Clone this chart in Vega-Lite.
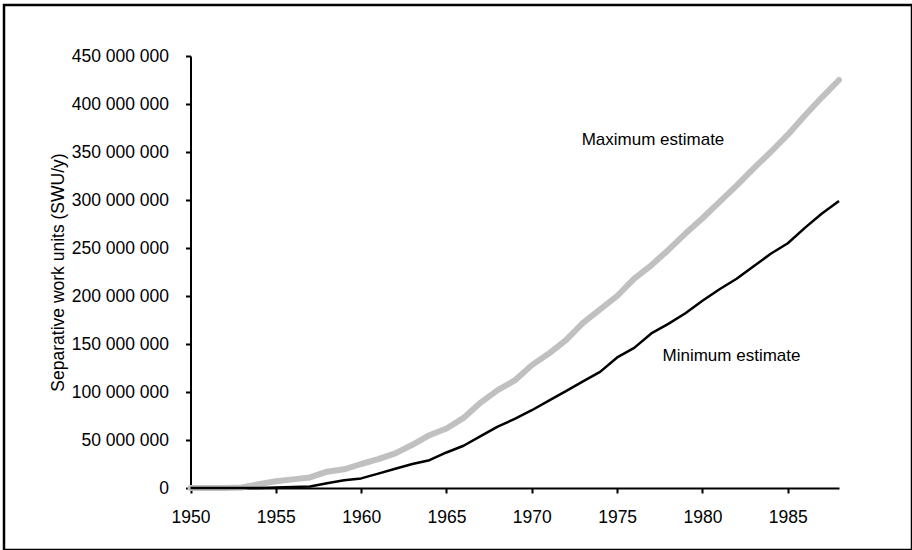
{
  "$schema": "https://vega.github.io/schema/vega-lite/v6.json",
  "width": 908,
  "height": 545,
  "autosize": {"type": "none"},
  "padding": {"left": 4, "top": 5, "right": 0, "bottom": 0},
  "background": "white",
  "config": {
    "view": {"stroke": "black", "strokeWidth": 2.5},
    "font": "Liberation Sans",
    "axis": {
      "grid": false,
      "domainColor": "black",
      "domainWidth": 2,
      "tickColor": "black",
      "tickWidth": 2,
      "tickSize": 5,
      "labelFont": "Liberation Sans",
      "labelFontSize": 17.5,
      "labelColor": "black",
      "labelFlush": false,
      "labelOverlap": false,
      "titleFont": "Liberation Sans",
      "titleFontSize": 17.5,
      "titleFontWeight": "normal",
      "titleColor": "black"
    }
  },
  "datasets": {
    "series": [
      {"year": 1950, "series": "Maximum", "swu": 0},
      {"year": 1951, "series": "Maximum", "swu": 0},
      {"year": 1952, "series": "Maximum", "swu": 0},
      {"year": 1953, "series": "Maximum", "swu": 500000},
      {"year": 1954, "series": "Maximum", "swu": 4000000},
      {"year": 1955, "series": "Maximum", "swu": 7000000},
      {"year": 1956, "series": "Maximum", "swu": 9000000},
      {"year": 1957, "series": "Maximum", "swu": 11000000},
      {"year": 1958, "series": "Maximum", "swu": 17000000},
      {"year": 1959, "series": "Maximum", "swu": 19500000},
      {"year": 1960, "series": "Maximum", "swu": 25000000},
      {"year": 1961, "series": "Maximum", "swu": 30000000},
      {"year": 1962, "series": "Maximum", "swu": 36000000},
      {"year": 1963, "series": "Maximum", "swu": 45000000},
      {"year": 1964, "series": "Maximum", "swu": 55000000},
      {"year": 1965, "series": "Maximum", "swu": 62000000},
      {"year": 1966, "series": "Maximum", "swu": 73000000},
      {"year": 1967, "series": "Maximum", "swu": 89000000},
      {"year": 1968, "series": "Maximum", "swu": 102000000},
      {"year": 1969, "series": "Maximum", "swu": 112000000},
      {"year": 1970, "series": "Maximum", "swu": 128000000},
      {"year": 1971, "series": "Maximum", "swu": 140000000},
      {"year": 1972, "series": "Maximum", "swu": 154000000},
      {"year": 1973, "series": "Maximum", "swu": 172000000},
      {"year": 1974, "series": "Maximum", "swu": 186000000},
      {"year": 1975, "series": "Maximum", "swu": 200000000},
      {"year": 1976, "series": "Maximum", "swu": 218000000},
      {"year": 1977, "series": "Maximum", "swu": 232000000},
      {"year": 1978, "series": "Maximum", "swu": 248000000},
      {"year": 1979, "series": "Maximum", "swu": 265000000},
      {"year": 1980, "series": "Maximum", "swu": 281000000},
      {"year": 1981, "series": "Maximum", "swu": 298000000},
      {"year": 1982, "series": "Maximum", "swu": 315000000},
      {"year": 1983, "series": "Maximum", "swu": 333000000},
      {"year": 1984, "series": "Maximum", "swu": 350000000},
      {"year": 1985, "series": "Maximum", "swu": 368000000},
      {"year": 1986, "series": "Maximum", "swu": 388000000},
      {"year": 1987, "series": "Maximum", "swu": 407000000},
      {"year": 1988, "series": "Maximum", "swu": 425000000},
      {"year": 1950, "series": "Minimum", "swu": 0},
      {"year": 1951, "series": "Minimum", "swu": 0},
      {"year": 1952, "series": "Minimum", "swu": 0},
      {"year": 1953, "series": "Minimum", "swu": 0},
      {"year": 1954, "series": "Minimum", "swu": 0},
      {"year": 1955, "series": "Minimum", "swu": 500000},
      {"year": 1956, "series": "Minimum", "swu": 1000000},
      {"year": 1957, "series": "Minimum", "swu": 1500000},
      {"year": 1958, "series": "Minimum", "swu": 5000000},
      {"year": 1959, "series": "Minimum", "swu": 8000000},
      {"year": 1960, "series": "Minimum", "swu": 10000000},
      {"year": 1961, "series": "Minimum", "swu": 15000000},
      {"year": 1962, "series": "Minimum", "swu": 20000000},
      {"year": 1963, "series": "Minimum", "swu": 25000000},
      {"year": 1964, "series": "Minimum", "swu": 29000000},
      {"year": 1965, "series": "Minimum", "swu": 37000000},
      {"year": 1966, "series": "Minimum", "swu": 44000000},
      {"year": 1967, "series": "Minimum", "swu": 54000000},
      {"year": 1968, "series": "Minimum", "swu": 64000000},
      {"year": 1969, "series": "Minimum", "swu": 72000000},
      {"year": 1970, "series": "Minimum", "swu": 81000000},
      {"year": 1971, "series": "Minimum", "swu": 91000000},
      {"year": 1972, "series": "Minimum", "swu": 101000000},
      {"year": 1973, "series": "Minimum", "swu": 111000000},
      {"year": 1974, "series": "Minimum", "swu": 121000000},
      {"year": 1975, "series": "Minimum", "swu": 136000000},
      {"year": 1976, "series": "Minimum", "swu": 146000000},
      {"year": 1977, "series": "Minimum", "swu": 161000000},
      {"year": 1978, "series": "Minimum", "swu": 171000000},
      {"year": 1979, "series": "Minimum", "swu": 182000000},
      {"year": 1980, "series": "Minimum", "swu": 195000000},
      {"year": 1981, "series": "Minimum", "swu": 207000000},
      {"year": 1982, "series": "Minimum", "swu": 218000000},
      {"year": 1983, "series": "Minimum", "swu": 231000000},
      {"year": 1984, "series": "Minimum", "swu": 244000000},
      {"year": 1985, "series": "Minimum", "swu": 255000000},
      {"year": 1986, "series": "Minimum", "swu": 271000000},
      {"year": 1987, "series": "Minimum", "swu": 286000000},
      {"year": 1988, "series": "Minimum", "swu": 299000000}
    ],
    "labels": [
      {"year": 1977.1, "swu": 362000000, "text": "Maximum estimate"},
      {"year": 1981.7, "swu": 137500000, "text": "Minimum estimate"}
    ]
  },
  "encoding": {
    "x": {
      "field": "year",
      "type": "quantitative",
      "scale": {"domain": [1950, 1988], "nice": false, "zero": false, "range": [186.5, 835]},
      "axis": {
        "title": null,
        "values": [1950, 1955, 1960, 1965, 1970, 1975, 1980, 1985],
        "format": "d",
        "offset": -62,
        "labelPadding": 15
      }
    },
    "y": {
      "field": "swu",
      "type": "quantitative",
      "scale": {"domain": [0, 450000000], "nice": false, "range": [483, 51]},
      "axis": {
        "title": "Separative work units (SWU/y)",
        "values": [0, 50000000, 100000000, 150000000, 200000000, 250000000, 300000000, 350000000, 400000000, 450000000],
        "labelExpr": "replace(format(datum.value, ','), regexp(',', 'g'), ' ')",
        "offset": -186.5,
        "labelPadding": 17,
        "titlePadding": 4
      }
    }
  },
  "layer": [
    {
      "data": {"name": "series"},
      "transform": [{"filter": "datum.series === 'Maximum'"}],
      "mark": {"type": "line", "color": "#c0c0c0", "strokeWidth": 6, "strokeCap": "round", "strokeJoin": "round"}
    },
    {
      "data": {"name": "series"},
      "transform": [{"filter": "datum.series === 'Minimum'"}],
      "mark": {"type": "line", "color": "black", "strokeWidth": 2.5, "strokeCap": "butt", "strokeJoin": "round"}
    },
    {
      "data": {"name": "labels"},
      "mark": {"type": "text", "font": "Liberation Sans", "fontSize": 17, "color": "black", "align": "center", "baseline": "middle"},
      "encoding": {"text": {"field": "text"}}
    }
  ]
}
